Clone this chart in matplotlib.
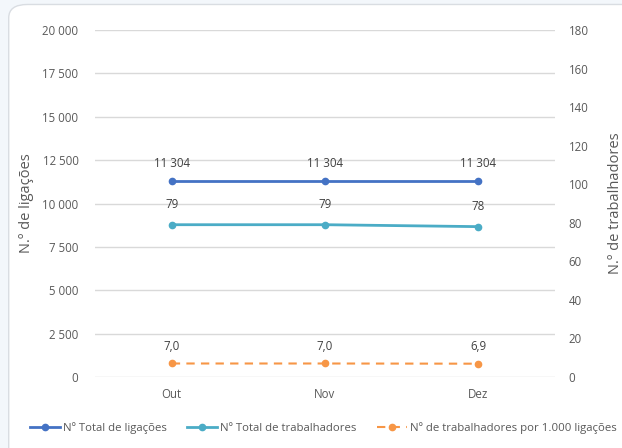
import matplotlib.pyplot as plt
from matplotlib.patches import FancyBboxPatch

meses = ["Out", "Nov", "Dez"]
total_ligacoes = [11304, 11304, 11304]
total_trabalhadores = [79, 79, 78]
trab_por_mil = [7.0, 7.0, 6.9]

plt.rcParams['font.family'] = ['Open Sans', 'DejaVu Sans']

cor_lig = '#4472C4'
cor_trab = '#4BACC6'
cor_rat = '#F79646'
cinza = '#595959'


def fmt_milhar(v):
    return f"{v:,.0f}".replace(",", " ")


fig = plt.figure(figsize=(6.22, 4.48), dpi=100)
fig.patch.set_facecolor('#f3f7fb')
painel = FancyBboxPatch((0.014, -0.05), 1.2, 1.04, boxstyle="round,pad=0,rounding_size=0.03",
                        transform=fig.transFigure, facecolor='white', edgecolor='#d9dde2', lw=1,
                        zorder=-10)
fig.patches.append(painel)

ax = fig.add_axes([0.153, 0.1585, 0.739, 0.7745])
ax2 = ax.twinx()
ax.patch.set_visible(False)
ax2.patch.set_visible(False)
x = range(len(meses))

l1, = ax.plot(x, total_ligacoes, color=cor_lig, lw=2, marker='o', ms=4.5,
              label="Nº Total de ligações")
l2, = ax2.plot(x, total_trabalhadores, color=cor_trab, lw=2, marker='o', ms=4.5,
               label="Nº Total de trabalhadores")
l3, = ax2.plot(x, trab_por_mil, color=cor_rat, lw=1.5, ls=(0, (4, 3)), marker='o', ms=4.5,
               label="Nº de trabalhadores por 1.000 ligações")

ax.set_xlim(-0.5, 2.5)
ax.set_ylim(0, 20000)
ax.set_yticks(range(0, 20001, 2500))
ax.set_yticklabels([fmt_milhar(v) for v in range(0, 20001, 2500)])
ax2.set_ylim(0, 180)
ax2.set_yticks(range(0, 181, 20))
ax.set_xticks(list(x))
ax.set_xticklabels(meses)

ax.grid(axis='y', color='#d9d9d9', lw=1)
ax.set_axisbelow(True)
for a in (ax, ax2):
    for s in a.spines.values():
        s.set_visible(False)
    a.tick_params(length=0, labelsize=8.3, colors=cinza)
ax.tick_params(axis='y', pad=12)
ax2.tick_params(axis='y', pad=10)
ax.tick_params(axis='x', pad=8)

ax.set_ylabel("N.º de ligações", fontsize=10.5, color=cinza, labelpad=6)
ax2.set_ylabel("N.º de trabalhadores", fontsize=10.5, color=cinza, labelpad=14)

for i, v in enumerate(total_ligacoes):
    ax.annotate(fmt_milhar(v), (i, v), xytext=(0, 10), textcoords='offset points',
                ha='center', fontsize=8.3, color='#404040')
for i, v in enumerate(total_trabalhadores):
    ax2.annotate(str(v), (i, v), xytext=(0, 12), textcoords='offset points',
                 ha='center', fontsize=8.3, color='#404040')
for i, v in enumerate(trab_por_mil):
    ax2.annotate(f"{v:.1f}".replace(".", ","), (i, v), xytext=(0, 10), textcoords='offset points',
                 ha='center', fontsize=8.3, color='#404040')

fig.legend(handles=[l1, l2, l3], loc='center', bbox_to_anchor=(0.52, 0.045), ncol=3,
           frameon=False, fontsize=8.2, labelcolor=cinza, handlelength=2.6,
           columnspacing=1.8, handletextpad=0.3)

fig.savefig("out.png", dpi=100, facecolor=fig.get_facecolor())
